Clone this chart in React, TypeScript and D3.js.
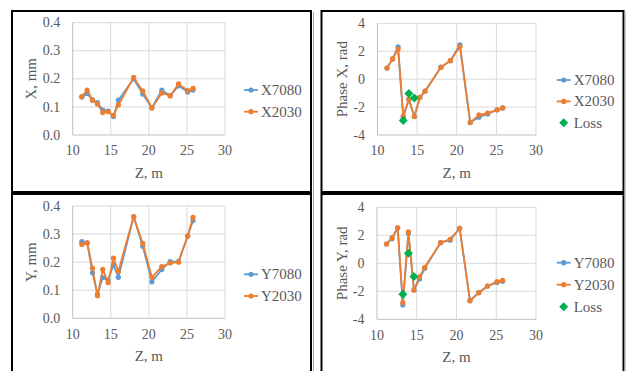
import React from 'react';
import * as d3 from 'd3';

// positions along the tunnel, m
const zPos = [11.2, 11.9, 12.6, 13.25, 13.95, 14.65, 15.35, 16.0, 18.0, 19.2, 20.4, 21.7, 22.8, 23.9, 25.1, 25.8];

const x7080 = [0.135, 0.148, 0.125, 0.115, 0.089, 0.085, 0.066, 0.124, 0.2, 0.146, 0.097, 0.16, 0.14, 0.175, 0.153, 0.16];
const x2030 = [0.137, 0.16, 0.124, 0.11, 0.08, 0.083, 0.07, 0.107, 0.205, 0.157, 0.096, 0.15, 0.14, 0.182, 0.158, 0.166];

const phaseX7080 = [0.79, 1.45, 2.31, -2.75, -1.44, -2.67, -1.3, -0.86, 0.86, 1.32, 2.46, -3.1, -2.72, -2.49, -2.2, -2.06];
const phaseX2030 = [0.79, 1.45, 2.16, -2.64, -1.44, -2.68, -1.3, -0.86, 0.85, 1.32, 2.33, -3.11, -2.56, -2.44, -2.2, -2.06];

const y7080 = [0.273, 0.269, 0.162, 0.086, 0.145, 0.136, 0.19, 0.146, 0.362, 0.257, 0.13, 0.174, 0.202, 0.203, 0.293, 0.348];
const y2030 = [0.263, 0.269, 0.178, 0.08, 0.174, 0.127, 0.214, 0.168, 0.362, 0.267, 0.146, 0.184, 0.197, 0.2, 0.293, 0.36];

const phaseY7080 = [1.38, 1.76, 2.54, -2.98, 2.14, -1.91, -1.12, -0.36, 1.47, 1.65, 2.5, -2.67, -2.1, -1.62, -1.38, -1.29];
const phaseY2030 = [1.38, 1.83, 2.54, -2.81, 2.24, -1.91, -0.96, -0.29, 1.47, 1.71, 2.5, -2.67, -2.1, -1.62, -1.31, -1.22];

const lossZ = [13.25, 13.95, 14.65];
const lossX = [-2.97, -1.02, -1.35];
const lossY = [-2.21, 0.71, -0.95];

const zTicks = [10, 15, 20, 25, 30];
const ampTicks = [0, 0.1, 0.2, 0.3, 0.4];
const phaseTicks = [-4, -2, 0, 2, 4];

const BLUE = '#5B9BD5';
const ORANGE = '#ED7D31';
const GREEN = '#00B050';
const TXT = '#595959';
const FONT = "'Liberation Serif', 'Times New Roman', 'DejaVu Serif', serif";

interface Series { name: string; values: number[]; color: string }
interface PanelProps {
  x0: number; x1: number; y0: number; y1: number;
  yDomain: [number, number];
  yTicks: number[];
  fmt: (v: number) => string;
  yTitle: string;
  yTitleX: number;
  series: Series[];
  loss?: number[];
  legX: number; legY: number; legDy: number;
}

const Panel: React.FC<PanelProps> = (p) => {
  const x = d3.scaleLinear().domain([10, 30]).range([p.x0, p.x1]);
  const y = d3.scaleLinear().domain(p.yDomain).range([p.y1, p.y0]);
  const line = d3.line<number>().x((_, i) => x(zPos[i])).y((d) => y(d));
  const diamond = (cx: number, cy: number, r: number) =>
    `M${cx},${cy - r}L${cx + r},${cy}L${cx},${cy + r}L${cx - r},${cy}Z`;
  const legend = [...p.series.map((s) => ({ name: s.name, color: s.color, loss: false }))];
  if (p.loss) legend.push({ name: 'Loss', color: GREEN, loss: true });

  return (
    <g>
      {p.yTicks.map((t) => (
        <line key={'h' + t} x1={p.x0} x2={p.x1} y1={y(t)} y2={y(t)}
          stroke={t === p.yDomain[0] ? '#BFBFBF' : '#D9D9D9'} strokeWidth={1} />
      ))}
      {zTicks.map((t) => (
        <line key={'v' + t} x1={x(t)} x2={x(t)} y1={p.y0} y2={p.y1}
          stroke={t === 10 ? '#BFBFBF' : '#D9D9D9'} strokeWidth={1} />
      ))}
      {p.yTicks.map((t) => (
        <text key={'yl' + t} x={p.x0 - 12.5} y={y(t)} dy="0.33em" textAnchor="end"
          fontSize={14} fill={TXT}>{p.fmt(t)}</text>
      ))}
      {zTicks.map((t) => (
        <text key={'xl' + t} x={x(t)} y={p.y1 + 15.7} dy="0.33em" textAnchor="middle"
          fontSize={14} fill={TXT}>{t}</text>
      ))}
      <text x={(p.x0 + p.x1) / 2} y={p.y1 + 38} dy="0.33em" textAnchor="middle" fontSize={15} fill={TXT}>Z, m</text>
      <text transform={`translate(${p.yTitleX},${(p.y0 + p.y1) / 2}) rotate(-90)`} dy="0.33em"
        textAnchor="middle" fontSize={15} fill={TXT}>{p.yTitle}</text>

      {p.series.map((s) => (
        <g key={s.name}>
          <path d={line(s.values) || ''} fill="none" stroke={s.color} strokeWidth={1.8} strokeLinejoin="round" />
          {s.values.map((v, i) => (
            <circle key={i} cx={x(zPos[i])} cy={y(v)} r={2.6} fill={s.color} />
          ))}
        </g>
      ))}
      {p.loss && p.loss.map((v, i) => (
        <path key={'l' + i} d={diamond(x(lossZ[i]), y(v), 4.5)} fill={GREEN} />
      ))}

      {legend.map((l, i) => {
        const ly = p.legY + i * p.legDy;
        return (
          <g key={l.name}>
            {l.loss ? (
              <path d={diamond(p.legX + 7, ly, 4.5)} fill={GREEN} />
            ) : (
              <>
                <line x1={p.legX} x2={p.legX + 14} y1={ly} y2={ly} stroke={l.color} strokeWidth={1.8} />
                <circle cx={p.legX + 7} cy={ly} r={2.6} fill={l.color} />
              </>
            )}
            <text x={p.legX + 17} y={ly} dy="0.33em" fontSize={15} fill={TXT}>{l.name}</text>
          </g>
        );
      })}
    </g>
  );
};

const fmtAmp = (v: number) => v.toFixed(1);
const fmtPhase = (v: number) => String(v);

export default function App() {
  return (
    <svg width={627} height={371}
      style={{ position: 'fixed', left: 0, top: 0, background: '#fff', fontFamily: FONT }}>
      <rect x={0} y={0} width={627} height={371} fill="#fff" />
      {/* frames */}
      <rect x={12} y={11} width={299} height={181} fill="none" stroke="#000" strokeWidth={2} />
      <rect x={321.5} y={11} width={302} height={181} fill="none" stroke="#000" strokeWidth={2} />
      <rect x={12} y={194} width={299} height={200} fill="none" stroke="#000" strokeWidth={2} />
      <rect x={321.5} y={194} width={302} height={200} fill="none" stroke="#000" strokeWidth={2} />
      <line x1={313.5} x2={313.5} y1={12} y2={371} stroke="#A6A6A6" strokeWidth={1} />
      <line x1={625} x2={625} y1={12} y2={371} stroke="#A6A6A6" strokeWidth={1} />

      <Panel x0={72.7} x1={225} y0={22.7} y1={135} yDomain={[0, 0.4]} yTicks={ampTicks} fmt={fmtAmp}
        yTitle="X, mm" yTitleX={30.7}
        series={[{ name: 'X7080', values: x7080, color: BLUE }, { name: 'X2030', values: x2030, color: ORANGE }]}
        legX={244} legY={90} legDy={21.7} />
      <Panel x0={377.5} x1={536} y0={23.3} y1={135} yDomain={[-4, 4]} yTicks={phaseTicks} fmt={fmtPhase}
        yTitle="Phase X, rad" yTitleX={341.7}
        series={[{ name: 'X7080', values: phaseX7080, color: BLUE }, { name: 'X2030', values: phaseX2030, color: ORANGE }]}
        loss={lossX} legX={556.7} legY={80} legDy={21.4} />
      <Panel x0={72.7} x1={225} y0={206} y1={318.3} yDomain={[0, 0.4]} yTicks={ampTicks} fmt={fmtAmp}
        yTitle="Y, mm" yTitleX={30.7}
        series={[{ name: 'Y7080', values: y7080, color: BLUE }, { name: 'Y2030', values: y2030, color: ORANGE }]}
        legX={244} legY={274.3} legDy={21.7} />
      <Panel x0={377} x1={536} y0={207.3} y1={319.3} yDomain={[-4, 4]} yTicks={phaseTicks} fmt={fmtPhase}
        yTitle="Phase Y, rad" yTitleX={341.7}
        series={[{ name: 'Y7080', values: phaseY7080, color: BLUE }, { name: 'Y2030', values: phaseY2030, color: ORANGE }]}
        loss={lossY} legX={556.7} legY={262.7} legDy={22} />
    </svg>
  );
}
